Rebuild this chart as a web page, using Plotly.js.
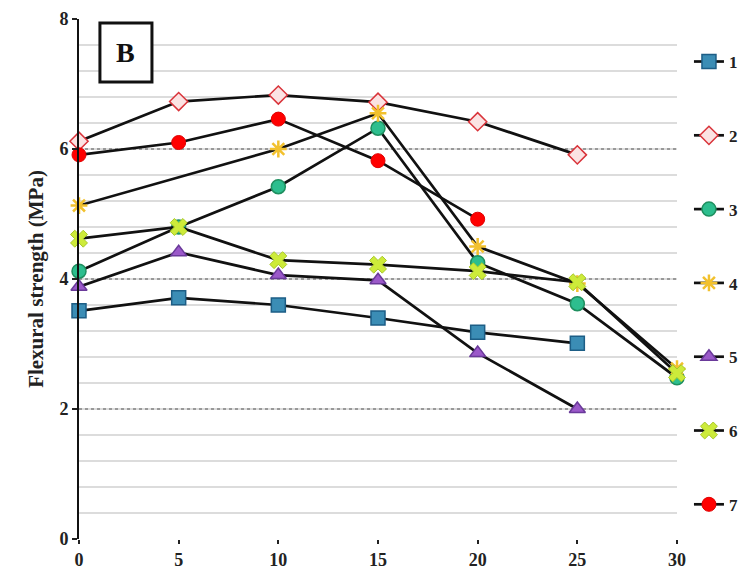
<!DOCTYPE html>
<html><head><meta charset="utf-8">
<script src="https://cdn.plot.ly/plotly-3.0.1.min.js"></script>
<style>body{margin:0;background:#fff}#chart{width:755px;height:583px}</style>
</head><body><div id="chart"></div>
<script>
const seriesNames = ['1','2','3','4','5','6','7'];
const x1 = [0,5,10,15,20,25];       const y1 = [3.51,3.71,3.60,3.40,3.18,3.01];
const x2 = [0,5,10,15,20,25];       const y2 = [6.12,6.73,6.83,6.72,6.42,5.91];
const x3 = [0,5,10,15,20,25,30];    const y3 = [4.12,4.80,5.42,6.32,4.25,3.62,2.48];
const x4 = [0,10,15,20,25,30];      const y4 = [5.13,6.00,6.55,4.50,3.93,2.62];
const x5 = [0,5,10,15,20,25];       const y5 = [3.88,4.41,4.06,3.98,2.86,2.00];
const x6 = [0,5,10,15,20,25,30];    const y6 = [4.62,4.80,4.29,4.22,4.12,3.95,2.55];
const x7 = [0,5,10,15,20];          const y7 = [5.91,6.10,6.46,5.82,4.92];
const xTicks = [0,5,10,15,20,25,30];
const yTicks = [0,2,4,6,8];

const xs = [x1,x2,x3,x4,x5,x6,x7];
const ys = [y1,y2,y3,y4,y5,y6,y7];
const markers = [
  {symbol:'square', size:14, color:'#3B8DB5', line:{color:'#1D5E86', width:1.5}},
  {symbol:'diamond', size:14, color:'#FBE3E3', line:{color:'#D9333A', width:1.5}},
  {symbol:'circle', size:14, color:'#2DBE8E', line:{color:'#1F8F5F', width:1.5}},
  {symbol:'asterisk-open', size:14, color:'#F2C12E', line:{color:'#F2C12E', width:2.5}},
  {symbol:'triangle-up', size:14, color:'#9B59C9', line:{color:'#6A3A9A', width:1.5}},
  {symbol:'x', size:15, color:'#CDEB3A', line:{color:'#A8C82A', width:1}},
  {symbol:'circle', size:14, color:'#FF0000', line:{color:'#E00000', width:1}}
];
const serif = 'Liberation Serif, Times New Roman, serif';
const traces = seriesNames.map((n,i)=>({
  type:'scatter', mode:'lines+markers', name:n, x:xs[i], y:ys[i],
  line:{color:'#111', width:2.7}, marker:markers[i], cliponaxis:false,
  legendgroup:'g'+n
}));

const layout = {
  width:755, height:583,
  margin:{l:79, r:75, t:19, b:44},
  paper_bgcolor:'#fff', plot_bgcolor:'#fff',
  showlegend:true,
  legend:{x:1.02, xanchor:'left', y:0.952, yanchor:'top', traceorder:'grouped',
    tracegroupgap:48.7, font:{family:serif, size:17, color:'#222', weight:'bold'},
    bgcolor:'rgba(0,0,0,0)'},
  xaxis:{range:[0,30], tickvals:xTicks, ticks:'outside', ticklen:4, tickwidth:2, tickcolor:'#222',
    showgrid:false, zeroline:false, showline:false,
    tickfont:{family:serif, size:18, color:'#222', weight:'bold'}},
  yaxis:{range:[0,8], tickvals:yTicks, ticks:'outside', ticklen:5, tickwidth:2, tickcolor:'#222',
    showline:true, linecolor:'#111', linewidth:2, zeroline:false,
    showgrid:true, gridcolor:'#999', griddash:'dot', gridwidth:1.5,
    minor:{dtick:0.4, showgrid:true, gridcolor:'#dcdcdc', gridwidth:1.5, griddash:'solid', ticks:''},
    tickfont:{family:serif, size:18, color:'#222', weight:'bold'},
    title:{text:'Flexural strength (MPa)', font:{family:serif, size:21, color:'#222', weight:'bold'}, standoff:10}},
  shapes:[{type:'rect', xref:'paper', yref:'paper', x0:0.035, x1:0.122, y0:(539-82)/520, y1:(539-23)/520,
    line:{color:'#111', width:3}, fillcolor:'#fff'}],
  annotations:[{xref:'paper', yref:'paper', x:0.0785, y:(539-52)/520, xanchor:'center', yanchor:'middle',
    text:'B', showarrow:false, font:{family:serif, size:28, color:'#111', weight:'bold'}}]
};
Plotly.newPlot('chart', traces, layout, {displayModeBar:false, staticPlot:true});
</script></body></html>
